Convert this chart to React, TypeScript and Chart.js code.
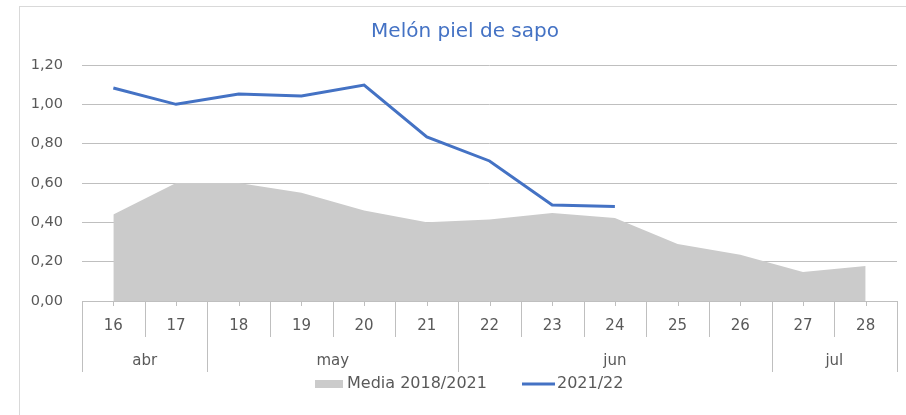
import React, { useEffect, useRef } from "react";
import { Chart, registerables } from "chart.js";

Chart.register(...registerables);

const TITLE = "Melón piel de sapo";
const weeks = ["16", "17", "18", "19", "20", "21", "22", "23", "24", "25", "26", "27", "28"];
const months = ["abr", "may", "jun", "jul"];
const monthSpans = [2, 4, 5, 2];
const mediaLabel = "Media 2018/2021";
const mediaValues = [0.44, 0.6, 0.6, 0.55, 0.46, 0.4, 0.415, 0.447, 0.422, 0.29, 0.235, 0.147, 0.178];
const currentLabel = "2021/22";
const currentValues = [1.083, 1.0, 1.052, 1.042, 1.098, 0.834, 0.712, 0.488, 0.48];
const yTicks = [0, 0.2, 0.4, 0.6, 0.8, 1.0, 1.2];

const FONT = "'DejaVu Sans', sans-serif";
const TEXT = "#595959";
const AXIS = "#BFBFBF";

const decor = {
  id: "decor",
  afterDraw(chart: any) {
    const ctx = chart.ctx as CanvasRenderingContext2D;
    const x = chart.scales.x;
    const y = chart.scales.y;
    const area = chart.chartArea;
    const bottom = Math.round(y.getPixelForValue(0));
    ctx.save();
    // frame
    ctx.strokeStyle = "#D9D9D9";
    ctx.lineWidth = 1;
    ctx.strokeRect(19.5, 6.5, 1200, 1000);

    // title
    ctx.fillStyle = "#4472C4";
    ctx.font = `20px ${FONT}`;
    ctx.textAlign = "center";
    ctx.textBaseline = "middle";
    ctx.fillText(TITLE, 465, 32);

    // x axis line
    ctx.strokeStyle = AXIS;
    ctx.beginPath();
    ctx.moveTo(area.left, bottom + 0.5);
    ctx.lineTo(area.right, bottom + 0.5);
    ctx.stroke();

    const n = weeks.length;
    const half = (x.getPixelForValue(1) - x.getPixelForValue(0)) / 2;
    const edge = (i: number) =>
      Math.round(i < n ? x.getPixelForValue(i) - half : x.getPixelForValue(n - 1) + half) + 0.5;
    // category boundary lines and center ticks
    ctx.beginPath();
    for (let i = 0; i <= n; i++) {
      const px = edge(i);
      ctx.moveTo(px, bottom);
      ctx.lineTo(px, bottom + 36);
    }
    for (let i = 0; i < n; i++) {
      const px = Math.round(x.getPixelForValue(i)) + 0.5;
      ctx.moveTo(px, bottom);
      ctx.lineTo(px, bottom + 5);
    }
    // month separators
    let idx = 0;
    const bounds = [0];
    monthSpans.forEach((s) => {
      idx += s;
      bounds.push(idx);
    });
    bounds.forEach((b) => {
      const px = edge(b);
      ctx.moveTo(px, bottom + 36);
      ctx.lineTo(px, bottom + 71);
    });
    ctx.stroke();

    // week labels
    ctx.fillStyle = TEXT;
    ctx.font = `15px ${FONT}`;
    ctx.textAlign = "center";
    ctx.textBaseline = "middle";
    weeks.forEach((w, i) => {
      ctx.fillText(w, x.getPixelForValue(i), bottom + 25);
    });
    // month labels
    months.forEach((m, j) => {
      const a = bounds[j];
      const b = bounds[j + 1] - 1;
      const cx = (x.getPixelForValue(a) + x.getPixelForValue(b)) / 2;
      ctx.fillText(m, cx, bottom + 60);
    });

    // legend
    const ly = 384;
    ctx.fillStyle = "#CBCBCB";
    ctx.fillRect(315, ly - 4, 28, 8);
    ctx.fillStyle = TEXT;
    ctx.font = `16px ${FONT}`;
    ctx.textAlign = "left";
    ctx.fillText(mediaLabel, 347, ly);
    ctx.strokeStyle = "#4472C4";
    ctx.lineWidth = 3;
    ctx.beginPath();
    ctx.moveTo(522, ly);
    ctx.lineTo(555, ly);
    ctx.stroke();
    ctx.fillText(currentLabel, 557, ly);
    ctx.restore();
  },
};

export default function App() {
  const ref = useRef<HTMLCanvasElement>(null);
  useEffect(() => {
    if (!ref.current) return;
    const chart = new Chart(ref.current, {
      type: "line",
      data: {
        labels: weeks,
        datasets: [
          {
            label: currentLabel,
            data: currentValues,
            borderColor: "#4472C4",
            borderWidth: 3,
            pointRadius: 0,
            fill: false,
            tension: 0,
            order: 0,
          },
          {
            label: mediaLabel,
            data: mediaValues,
            borderWidth: 0,
            borderColor: "rgba(0,0,0,0)",
            backgroundColor: "#CBCBCB",
            pointRadius: 0,
            fill: "origin",
            tension: 0,
            order: 1,
          },
        ],
      },
      options: {
        animation: false,
        responsive: false,
        maintainAspectRatio: false,
        layout: { padding: { left: 0, top: 65, right: 9, bottom: 114 } },
        plugins: {
          legend: { display: false },
          title: { display: false },
          tooltip: { enabled: false },
        },
        scales: {
          x: {
            display: false,
            offset: true,
          },
          y: {
            min: 0,
            max: 1.2,
            afterBuildTicks: (scale: any) => {
              scale.ticks = yTicks.map((v) => ({ value: v }));
            },
            afterFit: (scale: any) => {
              scale.width = 82;
            },
            border: { display: false },
            grid: { color: AXIS, drawTicks: false, lineWidth: 1 },
            ticks: {
              padding: 19,
              color: TEXT,
              font: { family: FONT, size: 14.5 },
              callback: (v: any) => Number(v).toFixed(2).replace(".", ","),
            },
          },
        },
      },
      plugins: [decor],
    });
    return () => chart.destroy();
  }, []);
  return (
    <div style={{ position: "fixed", left: 0, top: 0, width: 906, height: 415, background: "#fff" }}>
      <canvas ref={ref} width={906} height={415} style={{ width: 906, height: 415, display: "block" }} />
    </div>
  );
}
